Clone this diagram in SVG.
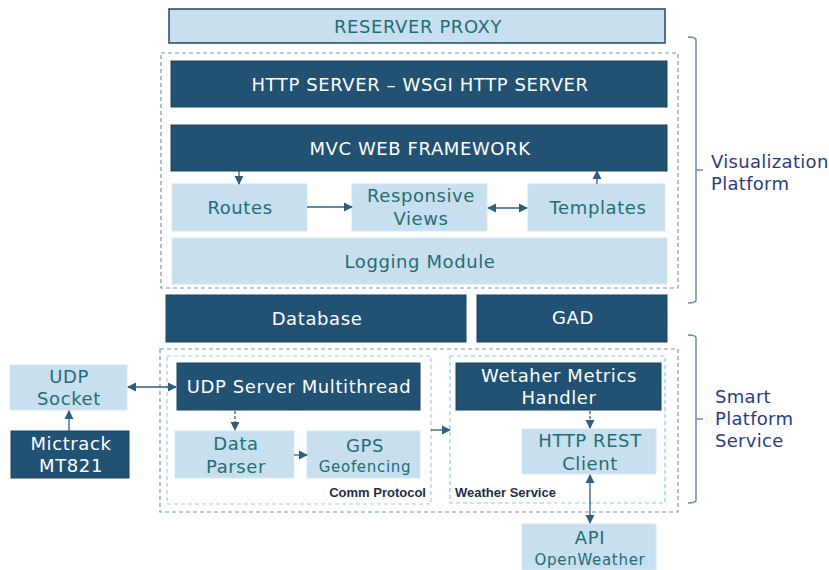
<svg xmlns="http://www.w3.org/2000/svg" width="829" height="570" viewBox="0 0 829 570">
  <defs>
    <style>
      .dark { fill: #215273; stroke: #1a4563; stroke-width: 1; }
      .light { fill: #c7dfee; stroke: #d6e8f3; stroke-width: 1; }
      .proxy { fill: #c7dfee; stroke: #1f4a66; stroke-width: 1.5; }
      .tw, .tl, .side { font-family: "DejaVu Sans", "Open Sans", sans-serif; font-size: 18px; letter-spacing: 0.6px; }
      .tw { fill: #ffffff; text-anchor: middle; }
      .tl { fill: #236e74; text-anchor: middle; }
      .sm { font-size: 15px; letter-spacing: 0.7px; }
      .side { fill: #2b3d80; letter-spacing: 0.3px; }
      .grp { font-family: "Liberation Sans", Arial, sans-serif; font-size: 13px; font-weight: bold; fill: #1d2f45; }
      .dash-outer { fill: none; stroke: #7f95a8; stroke-width: 1.2; stroke-dasharray: 4 3; }
      .dash-inner { fill: none; stroke: #a9cbe2; stroke-width: 1.2; stroke-dasharray: 4 3; }
      .dash-cyan { fill: none; stroke: #7fd3ec; stroke-width: 1.2; stroke-dasharray: 4 3; }
      .con { fill: none; stroke: #2e5f7e; stroke-width: 1.3; }
      .con-d { fill: none; stroke: #2e5f7e; stroke-width: 1.3; stroke-dasharray: 3 2; }
      .brk { fill: none; stroke: #6a8ca6; stroke-width: 1.5; }
    </style>
    <marker id="ah" viewBox="0 0 10 10" refX="9" refY="5" markerWidth="7" markerHeight="7" orient="auto-start-reverse">
      <path d="M0,0 L10,5 L0,10 z" fill="#2e5f7e"/>
    </marker>
  </defs>

  <!-- grouping frames -->
  <rect class="dash-outer" x="161" y="53" width="517" height="235"/>
  <rect class="dash-outer" x="160" y="349" width="518" height="163"/>
  <rect class="dash-inner" x="167" y="356" width="264" height="148"/>
  <rect class="dash-cyan" x="450" y="356" width="215" height="147"/>
  <text class="grp" x="426" y="497" text-anchor="end">Comm Protocol</text>
  <text class="grp" x="455" y="497">Weather Service</text>

  <!-- side brackets -->
  <path class="brk" d="M688,37 Q696,37 696,40 L696,300 Q696,303 688,303 M696,170 L703,170"/>
  <text class="side" x="711" y="168">Visualization</text>
  <text class="side" x="711" y="190">Platform</text>
  <path class="brk" d="M688,335 Q696,335 696,338 L696,500 Q696,503 688,503 M696,419 L703,419"/>
  <text class="side" x="715" y="403">Smart</text>
  <text class="side" x="715" y="425">Platform</text>
  <text class="side" x="715" y="447">Service</text>

  <g id="proxy">
    <rect class="proxy" x="169" y="9" width="496" height="34"/>
    <text class="tl" x="418" y="33">RESERVER PROXY</text>
  </g>
  <g id="http-server">
    <rect class="dark" x="171" y="61" width="496" height="46"/>
    <text class="tw" x="420" y="91">HTTP SERVER – WSGI HTTP SERVER</text>
  </g>
  <g id="mvc">
    <rect class="dark" x="171" y="125" width="496" height="46"/>
    <text class="tw" x="420" y="155">MVC WEB FRAMEWORK</text>
  </g>
  <g id="routes">
    <rect class="light" x="172" y="184" width="135" height="47"/>
    <text class="tl" x="240" y="214">Routes</text>
  </g>
  <g id="views">
    <rect class="light" x="352" y="184" width="135" height="47"/>
    <text class="tl" x="421" y="202">Responsive</text>
    <text class="tl" x="421" y="225">Views</text>
  </g>
  <g id="templates">
    <rect class="light" x="528" y="184" width="137" height="47"/>
    <text class="tl" x="598" y="214">Templates</text>
  </g>
  <g id="logging">
    <rect class="light" x="172" y="238" width="495" height="46"/>
    <text class="tl" x="420" y="268">Logging Module</text>
  </g>
  <g id="database">
    <rect class="dark" x="166" y="295" width="300" height="47"/>
    <text class="tw" x="317" y="325">Database</text>
  </g>
  <g id="gad">
    <rect class="dark" x="477" y="295" width="190" height="47"/>
    <text class="tw" x="573" y="324">GAD</text>
  </g>
  <g id="udp-socket">
    <rect class="light" x="10" y="365" width="117" height="45"/>
    <text class="tl" x="69" y="383">UDP</text>
    <text class="tl" x="69" y="405">Socket</text>
  </g>
  <g id="mictrack">
    <rect class="dark" x="11" y="431" width="118" height="47"/>
    <text class="tw" x="71" y="450">Mictrack</text>
    <text class="tw" x="71" y="472">MT821</text>
  </g>
  <g id="udp-server">
    <rect class="dark" x="177" y="363" width="243" height="47"/>
    <text class="tw" x="299" y="393">UDP Server Multithread</text>
  </g>
  <g id="data-parser">
    <rect class="light" x="175" y="431" width="119" height="47"/>
    <text class="tl" x="236" y="450">Data</text>
    <text class="tl" x="236" y="473">Parser</text>
  </g>
  <g id="gps">
    <rect class="light" x="307" y="431" width="113" height="47"/>
    <text class="tl" x="365" y="452">GPS</text>
    <text class="tl sm" x="365" y="472">Geofencing</text>
  </g>
  <g id="weather-handler">
    <rect class="dark" x="456" y="363" width="205" height="47"/>
    <text class="tw" x="559" y="382">Wetaher Metrics</text>
    <text class="tw" x="559" y="404">Handler</text>
  </g>
  <g id="rest-client">
    <rect class="light" x="522" y="429" width="134" height="45"/>
    <text class="tl" x="590" y="447">HTTP REST</text>
    <text class="tl" x="590" y="470">Client</text>
  </g>
  <g id="api">
    <rect class="light" x="522" y="524" width="134" height="46"/>
    <text class="tl" x="590" y="544">API</text>
    <text class="tl sm" x="590" y="565">OpenWeather</text>
  </g>

  <g id="connectors">
    <line class="con" x1="239" y1="171" x2="239" y2="184" marker-end="url(#ah)"/>
    <line class="con" x1="597" y1="184" x2="597" y2="171" marker-end="url(#ah)"/>
    <line class="con" x1="307" y1="207" x2="352" y2="207" marker-end="url(#ah)"/>
    <line class="con" x1="488" y1="208" x2="527" y2="208" marker-start="url(#ah)" marker-end="url(#ah)"/>
    <line class="con" x1="128" y1="387" x2="176" y2="387" marker-start="url(#ah)" marker-end="url(#ah)"/>
    <line class="con" x1="69" y1="431" x2="69" y2="411" marker-end="url(#ah)"/>
    <line class="con-d" x1="235" y1="411" x2="235" y2="430" marker-end="url(#ah)"/>
    <line class="con" x1="294" y1="455" x2="307" y2="455" marker-end="url(#ah)"/>
    <line class="con" x1="431" y1="430" x2="450" y2="430" marker-end="url(#ah)"/>
    <line class="con-d" x1="590" y1="411" x2="590" y2="428" marker-end="url(#ah)"/>
    <line class="con" x1="590" y1="475" x2="590" y2="523" marker-start="url(#ah)" marker-end="url(#ah)"/>
  </g>
</svg>
